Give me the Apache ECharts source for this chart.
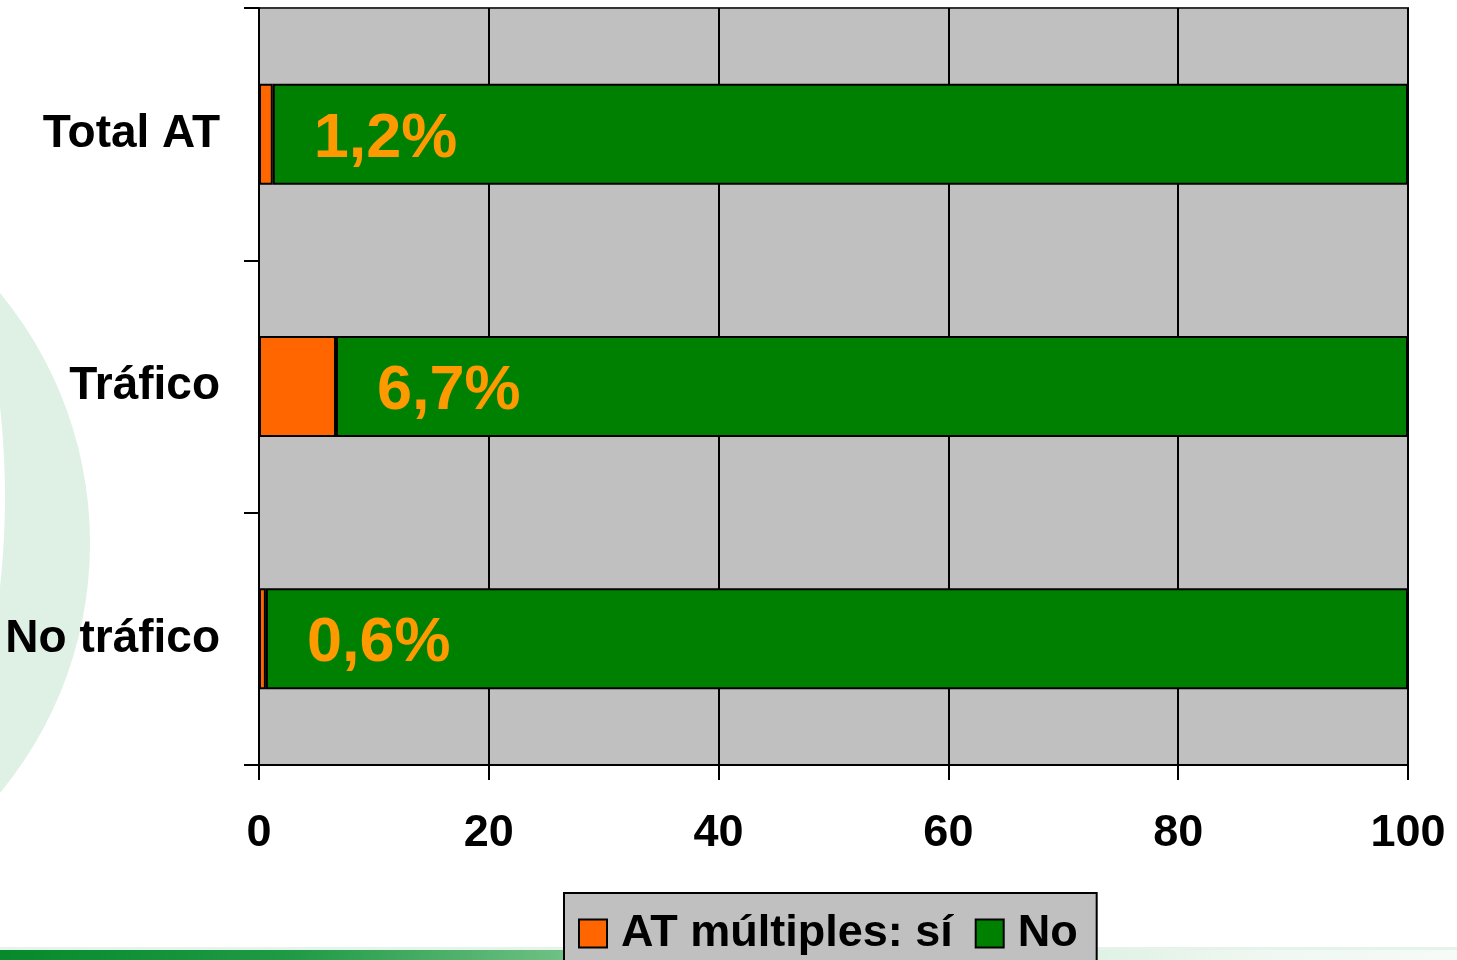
<!DOCTYPE html>
<html>
<head>
<meta charset="utf-8">
<script src="https://cdn.jsdelivr.net/npm/echarts@6/dist/echarts.min.js"></script>
<style>html,body{margin:0;padding:0;background:#fff;}#c{width:1457px;height:960px;}</style>
</head>
<body>
<div id="c"></div>
<script>
const categories = ['Total AT', 'Tráfico', 'No tráfico'];
const multiplesSi = [1.2, 6.7, 0.6];
const multiplesNo = [98.8, 93.3, 99.4];
const xTicks = [0, 20, 40, 60, 80, 100];
const seriesNames = ['AT múltiples: sí', 'No'];

const FONT = "'Liberation Sans', Arial, sans-serif";
const chart = echarts.init(document.getElementById('c'));
chart.setOption({
  animation: false,
  backgroundColor: '#ffffff',
  graphic: [
    { type: 'circle', z: -5, silent: true, shape: { cx: -302, cy: 543, r: 392 }, style: { fill: '#dff0e5' } },
    { type: 'circle', z: -4, silent: true, shape: { cx: -807, cy: 497, r: 812 }, style: { fill: '#ffffff' } },
    { type: 'rect', z: -3, silent: true, shape: { x: 0, y: 950, width: 1457, height: 10 },
      style: { fill: new echarts.graphic.LinearGradient(0, 0, 1, 0, [
        { offset: 0, color: '#068a2d' },
        { offset: 0.2, color: '#1f9a45' },
        { offset: 0.38, color: '#6cbf82' },
        { offset: 0.62, color: '#cde9d5' },
        { offset: 0.85, color: '#edf7f0' },
        { offset: 1, color: '#f6fbf8' }
      ]) } },
    { type: 'rect', z: -3, silent: true, shape: { x: 0, y: 947, width: 1457, height: 3 },
      style: { fill: '#e6f3ea' } }
  ],
  grid: {
    left: 259, right: 49, top: 8, bottom: 195,
    show: true, backgroundColor: '#C0C0C0', borderColor: '#333', borderWidth: 2
  },
  legend: {
    data: seriesNames,
    left: 564, top: 893,
    orient: 'horizontal',
    backgroundColor: '#C0C0C0',
    borderColor: '#000', borderWidth: 2, borderRadius: 0,
    padding: [18, 19, 30, 14],
    itemWidth: 28, itemHeight: 28, itemGap: 22,
    icon: 'rect',
    textStyle: { fontFamily: FONT, fontSize: 45, fontWeight: 'bold', color: '#000', padding: [0, 0, 0, 9] }
  },
  xAxis: {
    type: 'value', min: 0, max: 100, interval: 20,
    axisLine: { show: true, lineStyle: { color: '#000', width: 2 } },
    axisTick: { show: true, length: 15, lineStyle: { color: '#000', width: 2 } },
    axisLabel: {
      fontFamily: FONT, fontSize: 45, fontWeight: 'bold', color: '#000', margin: 46,
      formatter: function (v) { return xTicks.indexOf(v) >= 0 ? String(v) : ''; }
    },
    splitLine: { show: true, lineStyle: { color: '#000', width: 2 } }
  },
  yAxis: {
    type: 'category', data: categories, inverse: true,
    axisLine: { show: true, lineStyle: { color: '#000', width: 2 } },
    axisTick: { show: true, length: 15, lineStyle: { color: '#000', width: 2 } },
    axisLabel: { fontFamily: FONT, fontSize: 46, fontWeight: 'bold', color: '#000', margin: 39 },
    splitLine: { show: false }
  },
  series: [
    {
      name: seriesNames[0], type: 'bar', stack: 'total', data: multiplesSi, barWidth: '40%',
      itemStyle: { color: '#FF6600', borderColor: '#000', borderWidth: 2 }
    },
    {
      name: seriesNames[1], type: 'bar', stack: 'total', data: multiplesNo, barWidth: '40%',
      itemStyle: { color: '#008000', borderColor: '#000', borderWidth: 2 },
      label: {
        show: true, position: 'insideLeft', distance: 41, offset: [0, 5],
        fontFamily: FONT, fontSize: 63, fontWeight: 'bold', color: '#FF9900',
        formatter: function (p) { return String(multiplesSi[p.dataIndex]).replace('.', ',') + '%'; }
      }
    }
  ]
});
</script>
</body>
</html>
